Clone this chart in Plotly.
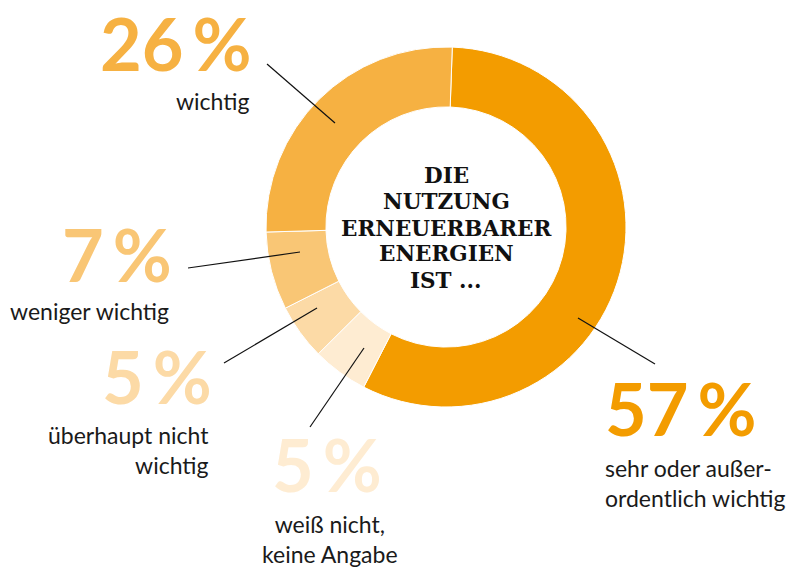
import plotly.graph_objects as go

# ---- data ----
categories = ["sehr oder außer-<br>ordentlich wichtig", "weiß nicht,<br>keine Angabe",
              "überhaupt nicht<br>wichtig", "weniger wichtig", "wichtig"]
values = [57, 5, 5, 7, 26]
colors = ["#F39C00", "#FEECD2", "#FCDAA6", "#F9C675", "#F6B142"]
center_lines = ["DIE", "NUTZUNG", "ERNEUERBARER", "ENERGIEN", "IST ..."]

W, H = 793, 568
def px(x): return x / W
def py(y): return 1 - y / H

cx, cy, R = 446, 227, 180

fig = go.Figure(go.Pie(
    values=values, labels=categories, sort=False, direction="clockwise",
    rotation=2, hole=0.667, textinfo="none", hoverinfo="skip",
    marker=dict(colors=colors, line=dict(color="white", width=1)),
    domain=dict(x=[px(cx - R), px(cx + R)], y=[py(cy + R), py(cy - R)]),
    showlegend=False,
))

# (pct x, pct center y, pct xanchor, label x, label center y, label xanchor, align, leader line)
placements = [
    (603, 408, "left", 603, 483, "left", "left", (655, 364, 578, 318)),
    (327, 464, "center", 330, 539, "center", "center", (310, 427, 364, 348)),
    (214, 376, "right", 211, 450, "right", "right", (224, 363, 317, 308)),
    (174, 254, "right", 171, 311, "right", "right", (188, 268, 300, 252)),
    (254, 43, "right", 251, 101, "right", "right", (267, 64, 335, 123)),
]

annotations = []
shapes = []
for cat, v, col, pl in zip(categories, values, colors, placements):
    pxx, pyy, pxa, lx, ly, lxa, al, ln = pl
    annotations.append(dict(
        x=px(pxx), y=py(pyy), xref="paper", yref="paper", xanchor=pxa, yanchor="middle",
        text=f"{v}\u2009%", showarrow=False,
        font=dict(family="Lato", size=72, color=col, weight=700)))
    annotations.append(dict(
        x=px(lx), y=py(ly), xref="paper", yref="paper", xanchor=lxa, yanchor="middle",
        text=cat, showarrow=False, align=al,
        font=dict(family="Lato", size=23, color="#1a1a1a")))
    x0, y0, x1, y1 = ln
    shapes.append(dict(type="line", xref="paper", yref="paper",
                       x0=px(x0), y0=py(y0), x1=px(x1), y1=py(y1),
                       line=dict(color="#111111", width=1.2)))

center_y = [175, 201, 228, 254, 280]
for line, yy in zip(center_lines, center_y):
    annotations.append(dict(
        x=px(cx), y=py(yy), xref="paper", yref="paper", xanchor="center", yanchor="middle",
        text=line, showarrow=False, align="center",
        font=dict(family="DejaVu Serif", size=21.5, color="#111111", weight=700)))

fig.update_layout(
    width=W, height=H, margin=dict(l=0, r=0, t=0, b=0),
    paper_bgcolor="white", plot_bgcolor="white",
    annotations=annotations, shapes=shapes,
)

fig.write_html("out.html")
